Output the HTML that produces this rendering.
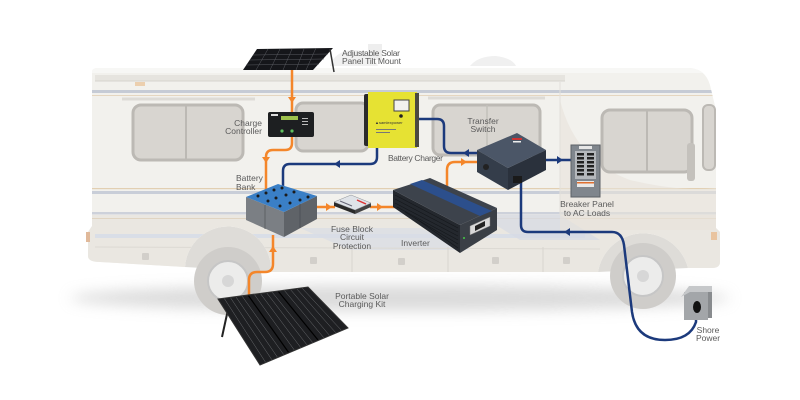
<!DOCTYPE html>
<html><head><meta charset="utf-8"><style>
html,body{margin:0;padding:0;background:#fff;}
svg{display:block;}
text{font-family:"Liberation Sans",sans-serif;font-size:8.5px;fill:#5a5a5a;}
</style></head><body>
<svg width="800" height="400" viewBox="0 0 800 400" xmlns="http://www.w3.org/2000/svg">
<defs>
<filter id="blur" x="-20%" y="-200%" width="140%" height="500%"><feGaussianBlur stdDeviation="7"/></filter>
<clipPath id="body"><path d="M92,72 Q92,68 98,68 H688 Q705,68 710,85 L716,110 V228 L720,232 V262 Q720,268 712,268 H688 A46,46 0 0 0 598,272 H271 A43,43 0 0 0 185,267 L100,262 Q88,262 88,256 V232 L92,226 Z"/></clipPath>
</defs>
<rect width="800" height="400" fill="#fff"/>
<!-- shadow -->
<ellipse cx="400" cy="298" rx="330" ry="13" fill="#bdbdbd" opacity="0.55" filter="url(#blur)"/>
<!-- roof AC units -->
<path d="M330,66 Q334,52 352,50 Q372,50 378,66 Z" fill="#f1f1f1"/>
<rect x="368" y="44" width="14" height="16" fill="#eeeeee"/>
<path d="M470,66 Q478,56 496,56 Q512,58 516,66 Z" fill="#f0f0f0"/>
<!-- wheel wells -->
<path d="M271,272 A43,43 0 0 0 185,267 Z" fill="#dedcd8"/>
<path d="M688,268 A46,46 0 0 0 598,272 Z" fill="#dedcd8"/>
<!-- RV body -->
<path d="M92,72 Q92,68 98,68 H688 Q705,68 710,85 L716,110 V228 L720,232 V262 Q720,268 712,268 H688 A46,46 0 0 0 598,272 H271 A43,43 0 0 0 185,267 L100,262 Q88,262 88,256 V232 L92,226 Z" fill="#f2f1ed"/>
<g clip-path="url(#body)">
  <rect x="80" y="215" width="650" height="70" fill="#eae7e1"/>
  <rect x="80" y="68" width="650" height="5" fill="#f7f7f5"/>
  <rect x="95" y="75" width="470" height="6" fill="#e6e4df"/>
  <line x1="95" y1="81" x2="565" y2="81" stroke="#d5d3ce" stroke-width="1"/>
  <rect x="80" y="90" width="650" height="3" fill="#c6cbd5"/>
  <rect x="80" y="95" width="650" height="1" fill="#e5d6c0"/>
  <rect x="80" y="188" width="650" height="1.2" fill="#e2cfb2"/>
  <rect x="80" y="191" width="650" height="3" fill="#c9ced8"/>
  <rect x="80" y="212" width="650" height="2.5" fill="#cdd1da"/>
  <rect x="80" y="218" width="650" height="1" fill="#e0d4c2"/>
  <rect x="95" y="234" width="490" height="4" fill="#d9dee7"/>
  <path d="M300,228 L420,228 L470,250 L350,250 Z" fill="#d9dde6" opacity="0.7"/>
  <path d="M480,215 L560,215 L600,240 L520,240 Z" fill="#d6dae4" opacity="0.7"/>
  <path d="M560,100 Q575,160 630,180 Q680,192 716,188 V230 H560 Z" fill="#e7e3da" opacity="0.6"/>
  <line x1="95" y1="247" x2="600" y2="249" stroke="#dcd9d3" stroke-width="1"/>
  <line x1="352" y1="247" x2="352" y2="272" stroke="#d8d5cf"/>
  <line x1="448" y1="247" x2="448" y2="272" stroke="#d8d5cf"/>
  <line x1="543" y1="247" x2="543" y2="272" stroke="#d8d5cf"/>
  <line x1="560" y1="82" x2="560" y2="215" stroke="#e2e0db"/>
</g>
<!-- small marks -->
<rect x="135" y="82" width="10" height="4" fill="#eccfae"/>
<rect x="86" y="232" width="4" height="10" fill="#e0b99a"/>
<rect x="711" y="232" width="6" height="8" fill="#e9c4a0"/>
<!-- windows -->
<line x1="122" y1="99" x2="255" y2="99" stroke="#dddbd6" stroke-width="3"/>
<rect x="133" y="105" width="110" height="55" rx="8" fill="#d8d5d0" stroke="#bcb9b4" stroke-width="3"/>
<line x1="186" y1="105" x2="186" y2="160" stroke="#bcb9b4" stroke-width="2"/>
<rect x="296" y="103" width="72" height="48" rx="7" fill="#d8d5d0" stroke="#bcb9b4" stroke-width="3"/>
<line x1="428" y1="98" x2="545" y2="98" stroke="#dddbd6" stroke-width="3"/>
<rect x="433" y="105" width="107" height="50" rx="7" fill="#d8d5d0" stroke="#bcb9b4" stroke-width="3"/>
<line x1="487" y1="105" x2="487" y2="155" stroke="#c3c0bb" stroke-width="1.5"/>
<rect x="602" y="110" width="90" height="62" rx="8" fill="#d8d5d0" stroke="#bcb9b4" stroke-width="3"/>
<line x1="647" y1="110" x2="647" y2="172" stroke="#bcb9b4" stroke-width="2"/>
<rect x="703" y="105" width="12" height="65" rx="5" fill="#d8d5d0" stroke="#bcb9b4" stroke-width="2"/>
<rect x="687" y="143" width="8" height="38" rx="3" fill="#c4c1bc"/>
<!-- door handles -->
<rect x="142" y="253" width="7" height="7" rx="1" fill="#d2cfca"/>
<rect x="310" y="257" width="7" height="7" rx="1" fill="#d2cfca"/>
<rect x="398" y="258" width="7" height="7" rx="1" fill="#d2cfca"/>
<rect x="492" y="257" width="7" height="7" rx="1" fill="#d2cfca"/>
<rect x="563" y="257" width="7" height="7" rx="1" fill="#d2cfca"/>
<!-- wheels -->
<circle cx="228" cy="281" r="34" fill="#cfcdca"/>
<circle cx="228" cy="281" r="20" fill="#ececeb" stroke="#c6c6c6" stroke-width="2"/>
<circle cx="228" cy="281" r="6" fill="#d7d7d7"/>
<circle cx="643" cy="276" r="33" fill="#cfcdca"/>
<circle cx="643" cy="276" r="20" fill="#ececeb" stroke="#c6c6c6" stroke-width="2"/>
<circle cx="643" cy="276" r="6" fill="#d7d7d7"/>

<!-- top solar panel -->
<polygon points="257,49 333,48 313,70 243,70" fill="#15161a"/>
<g stroke="#5a5c62" stroke-width="0.5">
<line x1="253" y1="55" x2="328" y2="54"/><line x1="250" y1="60" x2="324" y2="59"/><line x1="246" y1="65" x2="319" y2="64"/>
<line x1="268" y1="49" x2="256" y2="70"/><line x1="280" y1="49" x2="270" y2="70"/><line x1="292" y1="49" x2="283" y2="70"/><line x1="304" y1="49" x2="296" y2="70"/><line x1="316" y1="48" x2="306" y2="70"/>
</g>
<line x1="330" y1="49" x2="334" y2="72" stroke="#333" stroke-width="1.5"/>

<!-- connectors orange -->
<g fill="none" stroke="#f4862a" stroke-width="2.5">
<path d="M292,70 V112"/>
<path d="M292,137 V143 Q292,150 285,150 H273 Q266,150 266,157 V192"/>
<path d="M273,235 V264 Q273,272 265,272 H257 Q249,272 249,280 V298"/>
<path d="M317,207 H335"/>
<path d="M370,207 H395"/>
<path d="M447,186 V170 Q447,162 455,162 H479"/>
</g>
<g fill="#f4862a">
<polygon points="288,97 296,97 292,103"/>
<polygon points="262,157 270,157 266,163"/>
<polygon points="269,252 277,252 273,246"/>
<polygon points="326,203 326,211 332,207"/>
<polygon points="377,203 377,211 383,207"/>
<polygon points="461,158 461,166 467,162"/>
</g>
<!-- connectors blue -->
<g fill="none" stroke="#1c3a7c" stroke-width="2.5">
<path d="M377,147 V157 Q377,164 370,164 H290 Q283,164 283,171 V188"/>
<path d="M417,119 H437 Q444,119 444,126 V146 Q444,153 451,153 H479"/>
<path d="M546,160 H572"/>
<path d="M521,182 V225 Q521,232 528,232 H612 Q622,232 624,245 L632,312 Q636,340 665,340 Q690,340 696,322 V312"/>
</g>
<g fill="#1c3a7c">
<polygon points="340,160 340,168 334,164"/>
<polygon points="469,149 469,157 463,153"/>
<polygon points="557,156 557,164 563,160"/>
<polygon points="570,228 570,236 564,232"/>
</g>

<!-- charge controller -->
<rect x="268" y="112" width="46" height="25" rx="2" fill="#1d1f21"/>
<rect x="281" y="116" width="17" height="4" fill="#9fc24d"/>
<rect x="271" y="114" width="7" height="2" fill="#ddd"/>
<circle cx="282" cy="131" r="1.6" fill="#5fc15f"/>
<circle cx="292" cy="131" r="1.6" fill="#5fc15f"/>
<rect x="302" y="118" width="6" height="1" fill="#bbb"/><rect x="302" y="121" width="6" height="1" fill="#bbb"/><rect x="302" y="124" width="6" height="1" fill="#bbb"/>

<!-- battery charger -->
<rect x="364" y="94" width="6" height="52" rx="2" fill="#2b2b2b"/>
<rect x="368" y="92" width="49" height="56" fill="#e6e233"/>
<rect x="415" y="93" width="4" height="54" fill="#4a4a40"/>
<rect x="394" y="100" width="15" height="11" fill="#f2f2ee" stroke="#444" stroke-width="1"/>
<circle cx="401" cy="116" r="1.8" fill="#222"/>
<text x="375" y="124" style="font-size:4px;fill:#333">▲samlexpower</text>
<rect x="376" y="129" width="20" height="1" fill="#777"/><rect x="376" y="132" width="14" height="1" fill="#777"/>

<!-- transfer switch -->
<polygon points="477,150 517,133 546,150 508,168" fill="#4b5667"/>
<polygon points="477,150 508,168 508,190 477,172" fill="#343d4a"/>
<polygon points="508,168 546,150 546,170 508,190" fill="#2a313c"/>
<rect x="512" y="138" width="10" height="2" fill="#c33"/><rect x="513" y="141" width="8" height="1.5" fill="#eee"/>
<circle cx="486" cy="167" r="3" fill="#222"/>
<rect x="513" y="176" width="9" height="7" fill="#1a1a1a"/>

<!-- breaker panel -->
<rect x="571" y="145" width="29" height="52" fill="#80868d" stroke="#5d6167"/>
<rect x="575" y="151" width="21" height="28" fill="#b5b8bc"/>
<g fill="#222">
<rect x="577" y="153" width="7" height="2.5"/><rect x="587" y="153" width="7" height="2.5"/>
<rect x="577" y="157" width="7" height="2.5"/><rect x="587" y="157" width="7" height="2.5"/>
<rect x="577" y="161" width="7" height="2.5"/><rect x="587" y="161" width="7" height="2.5"/>
<rect x="577" y="165" width="7" height="2.5"/><rect x="587" y="165" width="7" height="2.5"/>
<rect x="577" y="169" width="7" height="2.5"/><rect x="587" y="169" width="7" height="2.5"/>
<rect x="577" y="173" width="7" height="2.5"/><rect x="587" y="173" width="7" height="2.5"/>
</g>
<rect x="579" y="146" width="13" height="3" fill="#e6e6e6"/>
<rect x="577" y="181" width="17" height="6" fill="#e8e8e8"/><rect x="577" y="182" width="17" height="1.5" fill="#e07030"/>

<!-- battery bank -->
<polygon points="246,197 284,212 284,237 246,220" fill="#7b7f84"/>
<polygon points="284,212 317,196 317,219 284,237" fill="#5f6368"/>
<polygon points="246,197 278,184 317,196 284,212" fill="#3a7fc6"/>
<g fill="#1b1b1b">
<circle cx="258" cy="196" r="1.5"/><circle cx="266" cy="193" r="1.5"/><circle cx="274" cy="190" r="1.5"/><circle cx="282" cy="188" r="1.5"/>
<circle cx="268" cy="201" r="1.5"/><circle cx="276" cy="198" r="1.5"/><circle cx="286" cy="195" r="1.5"/><circle cx="294" cy="192" r="1.5"/>
<circle cx="280" cy="206" r="1.5"/><circle cx="290" cy="203" r="1.5"/><circle cx="300" cy="200" r="1.5"/><circle cx="308" cy="197" r="1.5"/>
</g>
<line x1="265" y1="205" x2="265" y2="229" stroke="#55595e" stroke-width="0.8"/>
<line x1="300" y1="204" x2="300" y2="228" stroke="#4a4e53" stroke-width="0.8"/>

<!-- fuse block -->
<polygon points="334,202 355,210 355,214 334,206" fill="#2a2a2a"/>
<polygon points="355,210 371,203 371,207 355,214" fill="#444"/>
<polygon points="334,202 351,195 371,203 355,210" fill="#dfe3e8" stroke="#8a8e94" stroke-width="0.5"/>
<line x1="357" y1="200" x2="366" y2="204" stroke="#d33" stroke-width="1.5"/>
<line x1="340" y1="201" x2="352" y2="206" stroke="#667" stroke-width="1"/>

<!-- inverter -->
<polygon points="393,190 460,225 460,253 393,207" fill="#24282e"/>
<polygon points="460,225 497,208 497,230 460,253" fill="#3a3f46"/>
<polygon points="393,190 430,178 497,208 460,225" fill="#3d434c"/>
<polygon points="410,184 422,180 492,211 480,216" fill="#2c4f8c"/>
<g stroke="#15181c" stroke-width="0.7">
<line x1="395" y1="195" x2="458" y2="228"/><line x1="395" y1="199" x2="458" y2="232"/><line x1="395" y1="203" x2="458" y2="236"/><line x1="397" y1="207" x2="458" y2="240"/><line x1="405" y1="212" x2="458" y2="244"/><line x1="415" y1="218" x2="458" y2="248"/>
</g>
<polygon points="470,226 490,217 490,226 470,235" fill="#d8d8d8" stroke="#777" stroke-width="0.5"/>
<polygon points="475,226 485,221 485,226 475,231" fill="#222"/>
<circle cx="464" cy="238" r="1" fill="#4c4"/>

<!-- portable solar kit -->
<line x1="229" y1="305" x2="222" y2="337" stroke="#222" stroke-width="2"/>
<polygon points="218,299 308,287 348,328 260,365" fill="#1e1f22"/>
<g stroke="#8a8c90" stroke-width="0.45" opacity="0.8">
<line x1="224" y1="298" x2="266" y2="363"/><line x1="230" y1="297" x2="272" y2="360"/><line x1="236" y1="297" x2="278" y2="358"/><line x1="242" y1="296" x2="284" y2="355"/><line x1="254" y1="294" x2="295" y2="351"/><line x1="260" y1="293" x2="301" y2="348"/><line x1="266" y1="292" x2="307" y2="345"/><line x1="272" y1="292" x2="313" y2="343"/><line x1="284" y1="290" x2="324" y2="338"/><line x1="290" y1="289" x2="330" y2="336"/><line x1="296" y1="288" x2="336" y2="333"/><line x1="302" y1="288" x2="342" y2="331"/>
</g>
<line x1="248" y1="295" x2="289" y2="353" stroke="#000" stroke-width="1.2"/>
<line x1="278" y1="291" x2="318" y2="340" stroke="#000" stroke-width="1.2"/>
<polygon points="218,299 308,287 348,328 260,365" fill="none" stroke="#333" stroke-width="1"/>

<!-- shore power -->
<rect x="684" y="292" width="24" height="28" fill="#a3a6a9"/>
<rect x="708" y="290" width="4" height="28" fill="#888b8e"/>
<polygon points="681,297 689,286 712,286 712,292 690,292" fill="#c6c8ca"/>
<ellipse cx="697" cy="307" rx="4" ry="6" fill="#111"/>

<!-- labels -->
<text x="342" y="56" textLength="58">Adjustable Solar</text>
<text x="342" y="64" textLength="59">Panel Tilt Mount</text>
<text x="262" y="126" text-anchor="end">Charge</text>
<text x="262" y="134" text-anchor="end">Controller</text>
<text x="388" y="161" textLength="55">Battery Charger</text>
<text x="483" y="124" text-anchor="middle">Transfer</text>
<text x="483" y="132" text-anchor="middle">Switch</text>
<text x="587" y="207" text-anchor="middle">Breaker Panel</text>
<text x="587" y="216" text-anchor="middle">to AC Loads</text>
<text x="236" y="181">Battery</text>
<text x="236" y="190">Bank</text>
<text x="352" y="232" text-anchor="middle">Fuse Block</text>
<text x="352" y="240" text-anchor="middle">Circuit</text>
<text x="352" y="249" text-anchor="middle">Protection</text>
<text x="401" y="246">Inverter</text>
<text x="362" y="299" text-anchor="middle">Portable Solar</text>
<text x="362" y="307" text-anchor="middle">Charging Kit</text>
<text x="708" y="333" text-anchor="middle">Shore</text>
<text x="708" y="341" text-anchor="middle">Power</text>
</svg>
</body></html>
